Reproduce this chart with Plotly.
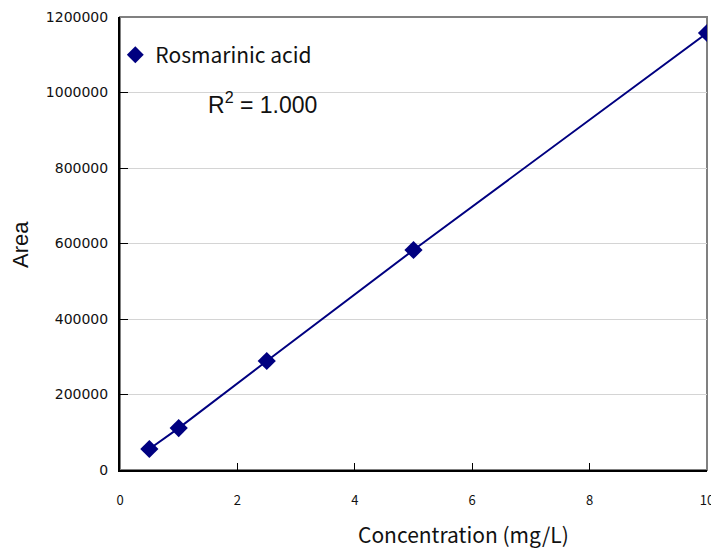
import plotly.graph_objects as go

concentration = [0.5, 1, 2.5, 5, 10]
area = [55600, 111000, 288700, 582800, 1157600]
series_name = "Rosmarinic acid"
r2_text = "R<sup>2</sup> = 1.000"
x_ticks = [0, 2, 4, 6, 8, 10]
y_ticks = [0, 200000, 400000, 600000, 800000, 1000000, 1200000]

navy = "#000080"

fig = go.Figure()
fig.add_trace(go.Scatter(
    x=concentration, y=area, mode="lines+markers", name=series_name,
    line=dict(color=navy, width=2),
    marker=dict(symbol="diamond", size=14, color=navy),
    showlegend=False,
))
# legend entry showing only the marker symbol
fig.add_trace(go.Scatter(
    x=[None], y=[None], mode="markers", name=series_name,
    marker=dict(symbol="diamond", size=13, color=navy),
    showlegend=True,
))

fig.update_layout(
    width=711, height=542,
    margin=dict(l=112, r=12, t=9, b=80, autoexpand=False),
    paper_bgcolor="white", plot_bgcolor="white",
    showlegend=True,
    legend=dict(x=-0.008, y=0.916, xanchor="left", yanchor="middle",
                bgcolor="rgba(0,0,0,0)",
                font=dict(family="Noto Sans CJK JP", size=21, color="#111"),
                itemwidth=30),
    shapes=[dict(type="rect", xref="paper", yref="paper", x0=0, x1=1, y0=0, y1=1,
                 line=dict(color="#808080", width=2), layer="below")],
    annotations=[
        dict(text=r2_text, xref="paper", yref="paper", x=(262-120)/587, y=(470-103)/453,
             showarrow=False, xanchor="center", yanchor="middle",
             font=dict(family="Liberation Sans, Arial", size=23, color="#111")),
        dict(text="Area", xref="paper", yref="paper", x=(20-120)/587, y=(470-245)/453,
             showarrow=False, textangle=-90, xanchor="center", yanchor="middle",
             font=dict(family="Liberation Sans, Arial", size=22, color="#111")),
        dict(text="Concentration (mg/L)", xref="paper", yref="paper", x=(463-120)/587, y=(470-534)/453,
             showarrow=False, xanchor="center", yanchor="middle",
             font=dict(family="Noto Sans CJK JP", size=21, color="#111")),
    ],
)

fig.update_xaxes(range=[0, 10], tickvals=x_ticks, ticktext=[str(v) for v in x_ticks],
                 showline=True, linecolor="black", linewidth=2, ticks="inside",
                 ticklen=7, tickcolor="black", showgrid=False, zeroline=False,
                 automargin=False, ticklabelstandoff=17,
                 tickfont=dict(family="Noto Sans CJK JP", size=13, color="#111"))
fig.update_yaxes(range=[0, 1200000], tickvals=y_ticks, ticktext=[str(v) for v in y_ticks],
                 showline=True, linecolor="black", linewidth=2, ticks="inside",
                 ticklen=8, tickcolor="black", showgrid=True, gridcolor="#d4d4d4",
                 gridwidth=1, zeroline=False, automargin=False, ticklabelstandoff=7,
                 tickfont=dict(family="DejaVu Sans", size=14, color="#111"))

fig.write_html("out.html")
